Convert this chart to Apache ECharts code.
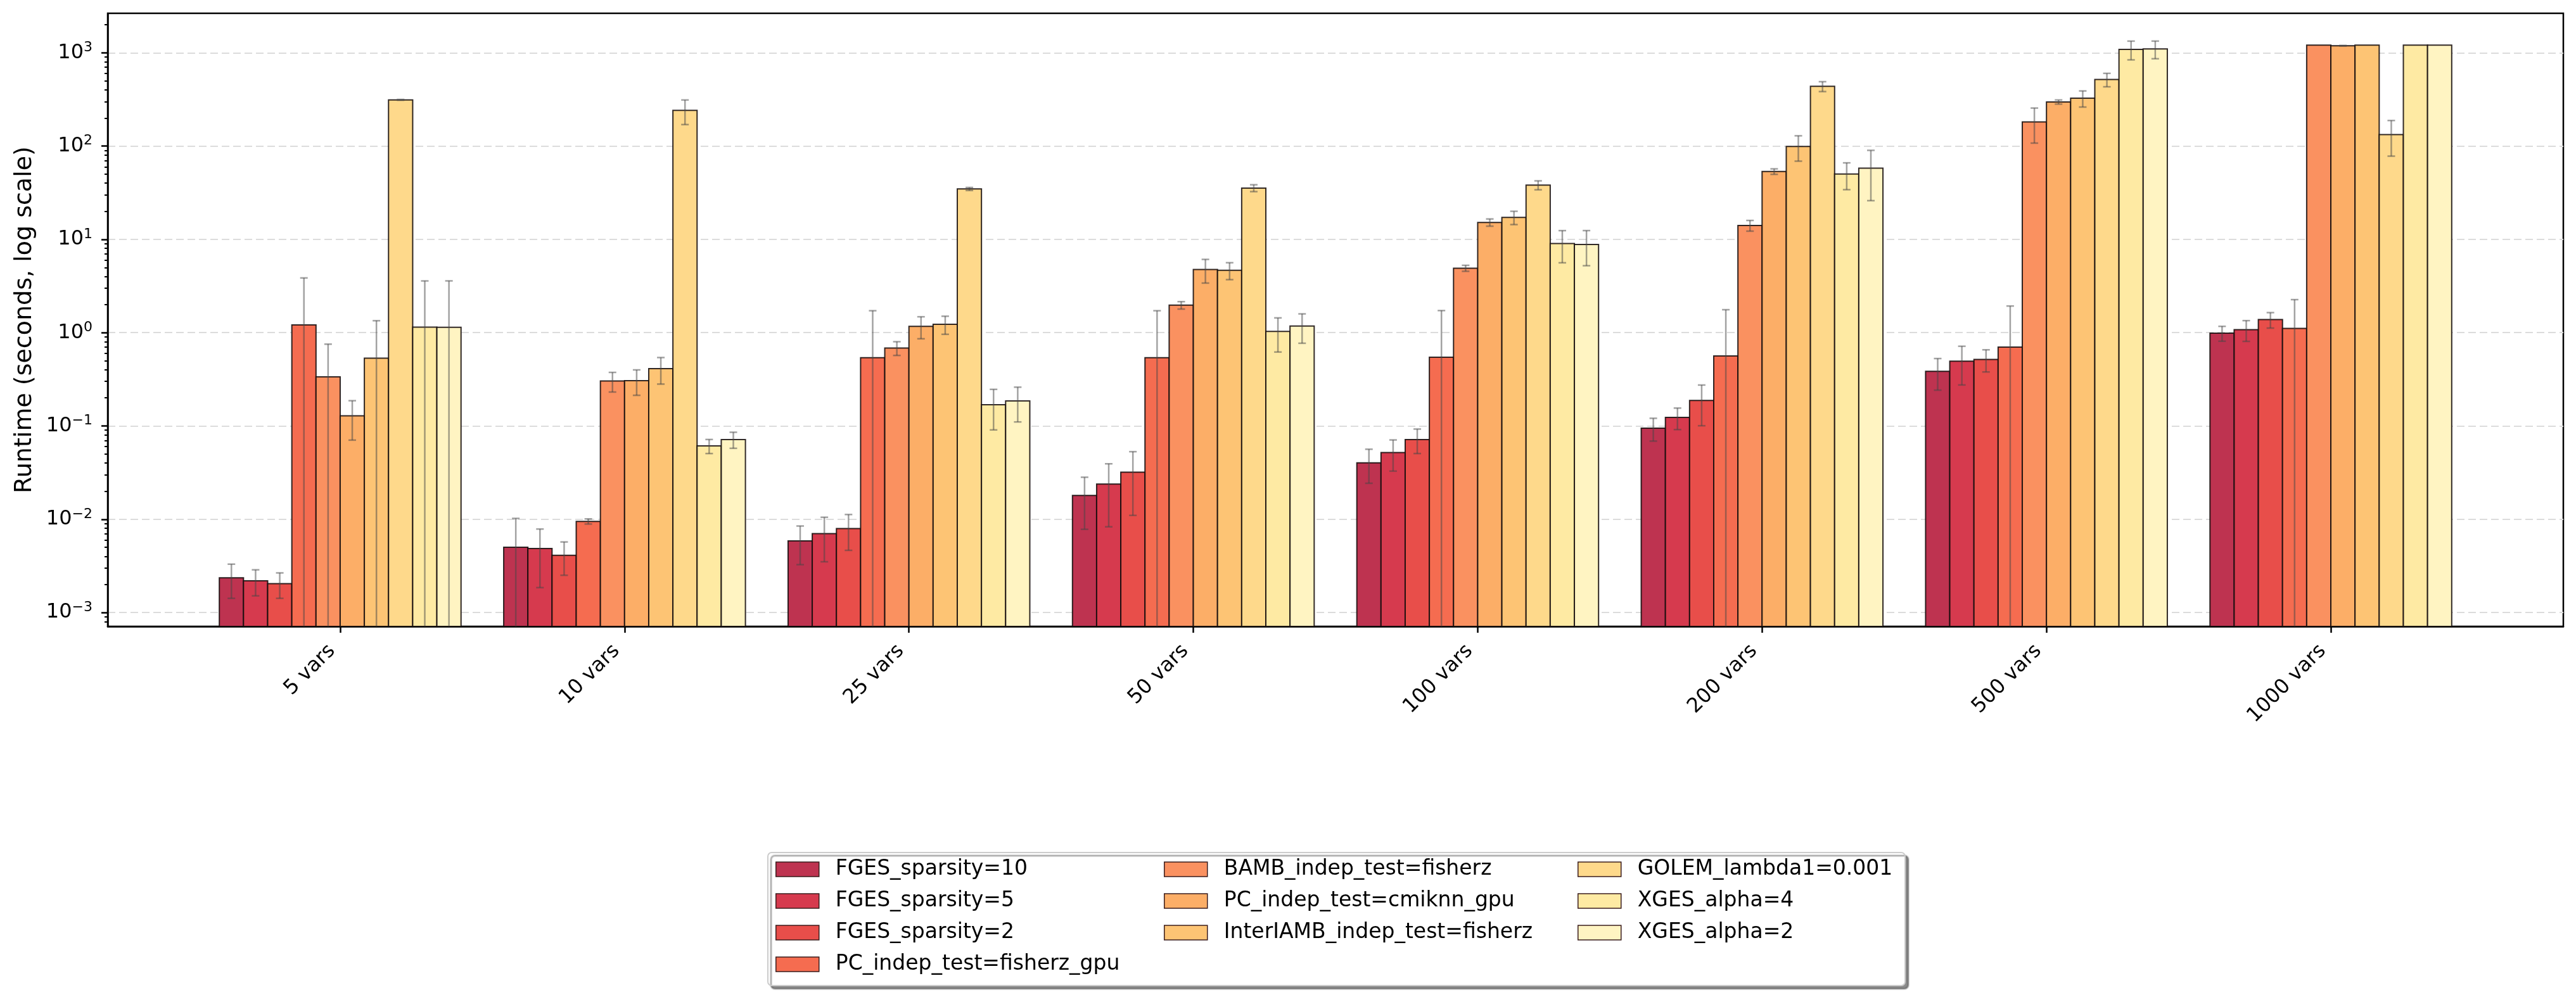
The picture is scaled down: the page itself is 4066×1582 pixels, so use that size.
<!DOCTYPE html>
<html>
<head>
<meta charset="utf-8">
<title>Runtime by number of variables</title>
<script src="https://cdn.jsdelivr.net/npm/echarts@6/dist/echarts.min.js"></script>
<style>
  html, body { margin: 0; padding: 0; background: #fff; }
  #chart { width: 4066px; height: 1582px; }
</style>
</head>
<body>
<div id="chart"></div>
<script>
// ============================
// Data
// ============================
const categories = ['5 vars', '10 vars', '25 vars', '50 vars', '100 vars', '200 vars', '500 vars', '1000 vars']

const algoNames = [
  'FGES_sparsity=10',
  'FGES_sparsity=5',
  'FGES_sparsity=2',
  'PC_indep_test=fisherz_gpu',
  'BAMB_indep_test=fisherz',
  'PC_indep_test=cmiknn_gpu',
  'InterIAMB_indep_test=fisherz',
  'GOLEM_lambda1=0.001',
  'XGES_alpha=4',
  'XGES_alpha=2'
]

const algoColors = [
  '#be3350', '#d63a4e', '#e84e4a', '#f56c50', '#fa9160',
  '#fcae67', '#fdc474', '#fed98b', '#feeaa3', '#fff4c2'
]

// mean runtime (seconds) and std per category
const fges10Mean = [0.00236, 0.00501, 0.00586, 0.0180, 0.0403, 0.0948, 0.385, 0.989]
const fges10Std = [0.00094, 0.0052, 0.0026, 0.0102, 0.016, 0.026, 0.143, 0.18]

const fges5Mean = [0.00219, 0.00485, 0.0070, 0.0238, 0.0518, 0.1234, 0.495, 1.076]
const fges5Std = [0.00068, 0.0030, 0.0035, 0.0155, 0.019, 0.032, 0.22, 0.27]

const fges2Mean = [0.00204, 0.00411, 0.00794, 0.0320, 0.0716, 0.1875, 0.517, 1.38]
const fges2Std = [0.00062, 0.0016, 0.0033, 0.021, 0.021, 0.087, 0.138, 0.26]

const pcFisherzGpuMean = [1.21, 0.00948, 0.539, 0.539, 0.545, 0.562, 0.70, 1.11]
const pcFisherzGpuStd = [2.65, 0.0006, 1.18, 1.18, 1.18, 1.20, 1.23, 1.15]

const bambMean = [0.336, 0.303, 0.685, 1.97, 4.91, 14.1, 181.6, 1207]
const bambStd = [0.417, 0.072, 0.115, 0.18, 0.36, 1.85, 74, 0]

const pcCmiknnGpuMean = [0.1285, 0.306, 1.17, 4.75, 15.2, 53.4, 297, 1190]
const pcCmiknnGpuStd = [0.058, 0.093, 0.31, 1.35, 1.35, 3.6, 15, 8]

const interIambMean = [0.533, 0.411, 1.23, 4.66, 17.2, 98.9, 326, 1207]
const interIambStd = [0.81, 0.13, 0.27, 0.96, 2.8, 30, 64, 0]

const golemMean = [313, 241, 34.7, 35.5, 38.2, 437, 517, 133]
const golemStd = [3, 71, 1.3, 3, 4.2, 53, 85, 55]

const xges4Mean = [1.146, 0.0611, 0.1687, 1.03, 9.01, 50.1, 1087, 1207]
const xges4Std = [2.44, 0.0105, 0.078, 0.41, 3.4, 16, 247, 0]

const xges2Mean = [1.14, 0.0716, 0.1854, 1.18, 8.82, 58.0, 1099, 1207]
const xges2Std = [2.45, 0.014, 0.075, 0.41, 3.6, 32, 236, 0]

const runtimeMeans = [fges10Mean, fges5Mean, fges2Mean, pcFisherzGpuMean, bambMean,
  pcCmiknnGpuMean, interIambMean, golemMean, xges4Mean, xges2Mean]
const runtimeStds = [fges10Std, fges5Std, fges2Std, pcFisherzGpuStd, bambStd,
  pcCmiknnGpuStd, interIambStd, golemStd, xges4Std, xges2Std]

// major y ticks (log10 exponents)
const yTickExponents = [-3, -2, -1, 0, 1, 2, 3]

// ============================
// Layout constants
// ============================
const FONT = 'DejaVu Sans'
const BAR_W = 0.085
const GROUP_W = BAR_W * algoNames.length
const X_PAD = 0.05 * (categories.length - 1 + GROUP_W)
const X_MIN = -GROUP_W / 2 - X_PAD
const X_MAX = categories.length - 1 + GROUP_W / 2 + X_PAD
const Y_MIN = 0.00071
const Y_MAX = 2650
const EDGE_COLOR = 'rgba(20,12,12,0.88)'
const ERR_STYLE = { stroke: 'rgba(70,70,70,0.5)', lineWidth: 2.5 }
const CAP_HALF = 6

const yTickValues = yTickExponents.map(e => Math.pow(10, e))
const yMinorValues = []
for (let e = -4; e <= 3; e++) {
  for (let m = 2; m <= 9; m++) {
    const v = m * Math.pow(10, e)
    if (v > Y_MIN && v < Y_MAX) yMinorValues.push(v)
  }
}

/**
 * Bar + error bar renderer for algorithm k
 */
function makeBarRenderer(k) {
  const offset = (k - (algoNames.length - 1) / 2) * BAR_W

  return function (params, api) {
    const cs = params.coordSys
    const bottom = cs.y + cs.height
    const top = cs.y
    const x = api.value(0) + offset
    const mean = api.value(1)
    const sd = api.value(2)

    const pl = api.coord([x - BAR_W / 2, mean])
    const pr = api.coord([x + BAR_W / 2, mean])
    const cx = (pl[0] + pr[0]) / 2

    const children = [{
      type: 'rect',
      shape: { x: pl[0], y: pl[1], width: pr[0] - pl[0], height: bottom - pl[1] },
      style: { fill: api.visual('color'), stroke: EDGE_COLOR, lineWidth: 2 }
    }]

    if (sd > 0) {
      const hiY = Math.max(api.coord([x, mean + sd])[1], top)
      let loY = bottom
      let lowCap = false
      if (mean - sd > 0) {
        const c = api.coord([x, mean - sd])[1]
        if (c < bottom) {
          loY = c
          lowCap = true
        }
      }
      children.push({ type: 'line', shape: { x1: cx, y1: hiY, x2: cx, y2: loY }, style: ERR_STYLE })
      children.push({ type: 'line', shape: { x1: cx - CAP_HALF, y1: hiY, x2: cx + CAP_HALF, y2: hiY }, style: ERR_STYLE })
      if (lowCap) {
        children.push({ type: 'line', shape: { x1: cx - CAP_HALF, y1: loY, x2: cx + CAP_HALF, y2: loY }, style: ERR_STYLE })
      }
    }

    return { type: 'group', children }
  }
}

function yLabel(v) {
  const e = Math.round(Math.log10(v))
  if (Math.abs(Math.log10(v) - e) > 1e-6) return ''
  const exp = e < 0 ? '\u2212' + (-e) : String(e)
  return '{base|10}{sup|' + exp + '}'
}

const series = algoNames.map((name, k) => ({
  name,
  type: 'custom',
  renderItem: makeBarRenderer(k),
  itemStyle: { color: algoColors[k] },
  encode: { x: 0, y: 1 },
  data: categories.map((c, i) => [i, runtimeMeans[k][i], runtimeStds[k][i]]),
  clip: true,
  z: 2
}))

// legend in 3 columns, filled column by column
const legendColumns = [algoNames.slice(0, 4), algoNames.slice(4, 7), algoNames.slice(7)]
const legendLefts = [1224, 1837, 2490]

const legends = legendColumns.map((names, i) => ({
  orient: 'vertical',
  left: legendLefts[i],
  top: 1356,
  padding: 0,
  data: names,
  icon: 'rect',
  itemWidth: 68,
  itemHeight: 23,
  itemGap: 17,
  selectedMode: false,
  itemStyle: { borderColor: '#3a1c1c', borderWidth: 1.5 },
  textStyle: { fontFamily: FONT, fontSize: 33, color: '#000', padding: [0, 0, 0, 21] }
}))

const option = {
  backgroundColor: '#fff',
  animation: false,
  grid: { left: 170, top: 21, width: 3876, height: 968, show: true, borderColor: '#000', borderWidth: 2.5, backgroundColor: 'transparent' },
  graphic: [{
    type: 'rect',
    left: 1211,
    top: 1345,
    z: 0,
    shape: { width: 1795, height: 210, r: 6 },
    style: {
      fill: '#fff', stroke: '#cccccc', lineWidth: 2,
      shadowBlur: 2, shadowOffsetX: 5, shadowOffsetY: 5, shadowColor: 'rgba(0,0,0,0.45)'
    }
  }],
  legend: legends,
  xAxis: {
    type: 'value',
    min: X_MIN,
    max: X_MAX,
    splitLine: { show: false },
    axisLine: { show: true, onZero: false, lineStyle: { color: '#000', width: 2.5 } },
    axisTick: { show: true, customValues: categories.map((c, i) => i), length: 10, lineStyle: { color: '#000', width: 2.5 } },
    axisLabel: {
      customValues: categories.map((c, i) => i),
      formatter: v => categories[Math.round(v)] || '',
      rotate: 45,
      margin: 21,
      padding: [0, 18, 0, 0],
      fontFamily: FONT,
      fontSize: 32,
      color: '#000'
    }
  },
  yAxis: [{
    type: 'log',
    logBase: 10,
    min: Y_MIN,
    max: Y_MAX,
    name: 'Runtime (seconds, log scale)',
    nameLocation: 'middle',
    nameGap: 112,
    nameTextStyle: { fontFamily: FONT, fontSize: 38, color: '#000' },
    axisLine: { show: true, onZero: false, lineStyle: { color: '#000', width: 2.5 } },
    axisTick: { show: true, customValues: yTickValues, length: 10, lineStyle: { color: '#000', width: 2.5 } },
    splitLine: { show: true, lineStyle: { color: '#dcdcdc', width: 2, type: [12, 6] } },
    axisLabel: {
      customValues: yTickValues,
      margin: 24,
      formatter: yLabel,
      rich: {
        base: { fontFamily: FONT, fontSize: 32, lineHeight: 38, color: '#000' },
        sup: { fontFamily: FONT, fontSize: 22, lineHeight: 22, verticalAlign: 'top', color: '#000' }
      }
    }
  }, {
    // minor ticks
    type: 'log',
    logBase: 10,
    min: Y_MIN,
    max: Y_MAX,
    position: 'left',
    axisLine: { show: false, onZero: false },
    axisLabel: { show: false },
    splitLine: { show: false },
    axisTick: { show: true, customValues: yMinorValues, length: 5, lineStyle: { color: '#000', width: 2 } }
  }],
  series
}

const chart = echarts.init(document.getElementById('chart'), null, { renderer: 'canvas' })
chart.setOption(option)
</script>
</body>
</html>
